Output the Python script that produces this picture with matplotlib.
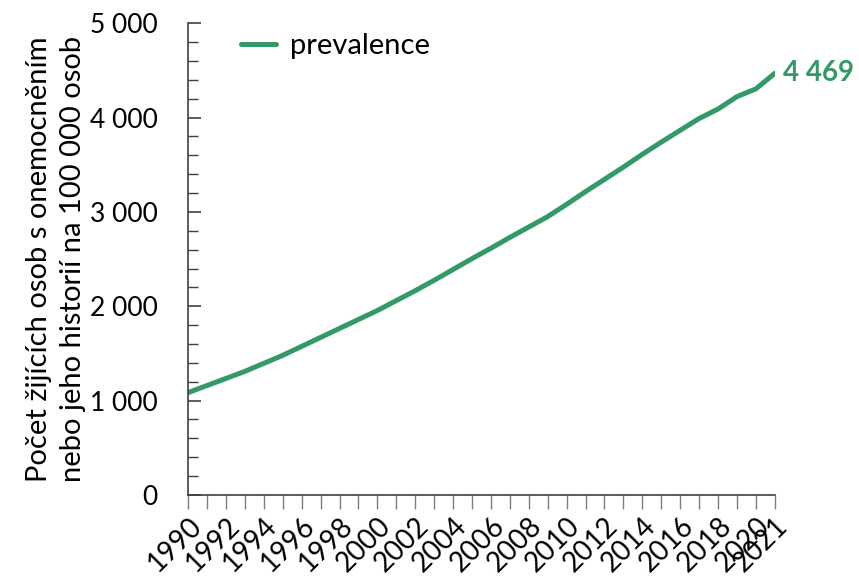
import numpy as np
import matplotlib
matplotlib.use("Agg")
import matplotlib.pyplot as plt
from matplotlib.ticker import FuncFormatter, MultipleLocator

plt.rcParams['font.family'] = ['Lato', 'DejaVu Sans']

# prevalence per 100 000 persons
years = list(range(1990, 2022))
prevalence = [1085, 1160, 1235, 1310, 1395, 1480, 1575, 1670, 1765, 1860,
              1955, 2060, 2165, 2275, 2390, 2505, 2615, 2730, 2840, 2950,
              3080, 3215, 3345, 3475, 3610, 3740, 3865, 3990, 4090, 4222,
              4304, 4469]
last_label = "4 469"
tick_years = list(range(1990, 2021, 2)) + [2021]

green = '#339966'

fig = plt.figure(figsize=(8.59, 5.8), dpi=100)
ax = fig.add_axes([0.219, 0.1466, 0.683, 0.8134])

ax.plot(years, prevalence, color=green, lw=3.6, solid_capstyle='round',
        label='prevalence')

ax.annotate(last_label, xy=(years[-1], prevalence[-1]), xytext=(6, 0),
            textcoords='offset points', color=green, fontsize=20,
            fontweight='bold', va='center', ha='left', annotation_clip=False)

ax.set_xlim(1990, 2021)
ax.set_ylim(0, 5000)

# y axis
ax.yaxis.set_major_locator(MultipleLocator(1000))
ax.yaxis.set_minor_locator(MultipleLocator(200))
ax.yaxis.set_major_formatter(FuncFormatter(lambda v, p: f"{int(v):,}".replace(",", " ")))
ax.tick_params(axis='y', which='major', direction='in', length=9, width=1.2,
               color='#404040', labelsize=19, pad=22)
ax.tick_params(axis='y', which='minor', direction='in', length=7, width=1,
               color='#404040')

# x axis
ax.set_xticks(years, minor=True)
ax.set_xticks(tick_years)
ax.set_xticklabels([str(y) for y in tick_years], rotation=45, ha='right',
                   rotation_mode='anchor')
ax.tick_params(axis='x', which='both', direction='out', length=10, width=1,
               color='#7f7f7f', labelsize=20, pad=3)

for s in ['top', 'right']:
    ax.spines[s].set_visible(False)
for s in ['left', 'bottom']:
    ax.spines[s].set_color('#404040')
    ax.spines[s].set_linewidth(1.2)

ax.set_ylabel("Počet žijících osob s onemocněním\nnebo jeho historií na 100 000 osob",
              fontsize=21, linespacing=1.35, labelpad=3)

ax.legend(loc='upper left', frameon=False, fontsize=21, handlelength=1.2,
          bbox_to_anchor=(0.045, 1.035), handletextpad=0.5)

fig.savefig('out.png', dpi=100)
